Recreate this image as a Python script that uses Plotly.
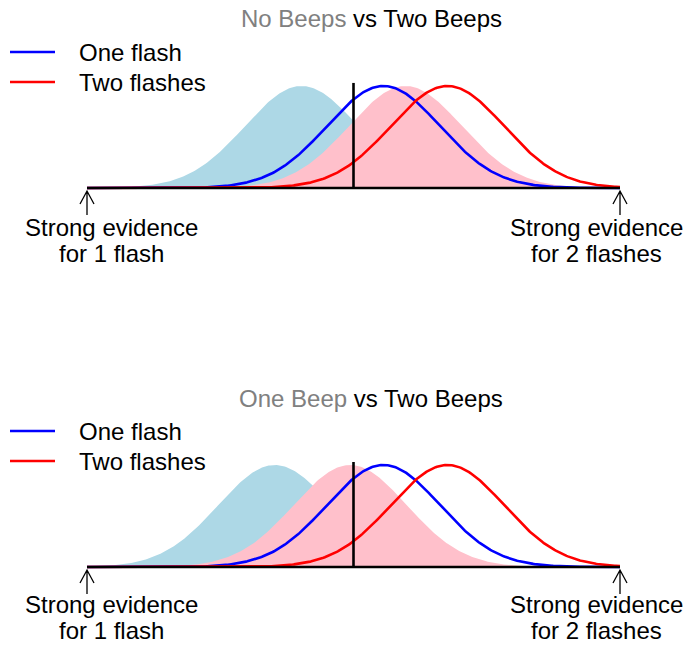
import numpy as np
import plotly.graph_objects as go

# ---- data ----
panel_titles_grey = ["No Beeps", "One Beep"]
panel_titles_black = ["vs Two Beeps", "vs Two Beeps"]
# shaded distributions (mean, sd) per panel: light blue, pink
fill_blue_mean = [-0.78, -1.18]
fill_pink_mean = [0.78, -0.05]
fill_sd = [0.85, 0.85]
# line distributions (same in both panels)
line_names = ["One flash", "Two flashes"]
line_means = [0.45, 1.41]
line_sd = [0.85, 0.85]
axis_ends = [-4, 4]
criterion = 0.0
criterion_height = 1.03
end_labels_left = ["Strong evidence", "for 1 flash"]
end_labels_right = ["Strong evidence", "for 2 flashes"]

W, H = 684, 645
FONT = "Arial, Liberation Sans, sans-serif"
FS = 24
LIGHTBLUE = "#ADD8E6"
PINK = "#FFC0CB"
BLUE = "#0000FF"
RED = "#FF0000"

x = np.linspace(axis_ends[0], axis_ends[1], 400)


def bump(m, s):
    return np.exp(-(x - m) ** 2 / (2 * s ** 2))


fig = go.Figure()

PXU = 102.0                 # px per y unit
XL, XR = 87, 620            # px of axis ends
xu = (XR - XL) / (axis_ends[1] - axis_ends[0])
xrange = [axis_ends[0] - XL / xu, axis_ends[1] + (W - XR) / xu]
base_px = [188, 567]
offset = base_px[1] - base_px[0]

axes = [("x", "y"), ("x2", "y2")]
for p in range(2):
    xa, ya = axes[p]
    fig.add_trace(go.Scatter(x=x, y=bump(fill_blue_mean[p], fill_sd[p]), fill="tozeroy",
                             fillcolor=LIGHTBLUE, line=dict(width=0, color=LIGHTBLUE),
                             mode="lines", showlegend=False, xaxis=xa, yaxis=ya, hoverinfo="skip"))
    fig.add_trace(go.Scatter(x=x, y=bump(fill_pink_mean[p], fill_sd[p]), fill="tozeroy",
                             fillcolor=PINK, line=dict(width=0, color=PINK),
                             mode="lines", showlegend=False, xaxis=xa, yaxis=ya, hoverinfo="skip"))
    for name, m, s, c in zip(line_names, line_means, line_sd, [BLUE, RED]):
        fig.add_trace(go.Scatter(x=x, y=bump(m, s), mode="lines", name=name,
                                 line=dict(color=c, width=2.6), showlegend=False,
                                 xaxis=xa, yaxis=ya))
    fig.add_trace(go.Scatter(x=axis_ends, y=[0, 0], mode="lines", line=dict(color="black", width=2.6),
                             showlegend=False, xaxis=xa, yaxis=ya, hoverinfo="skip"))
    fig.add_trace(go.Scatter(x=[criterion, criterion], y=[0, criterion_height], mode="lines",
                             line=dict(color="black", width=2.6),
                             showlegend=False, xaxis=xa, yaxis=ya, hoverinfo="skip"))


def py(v):   # px from top -> paper y
    return 1 - v / H


def pxp(v):  # px from left -> paper x
    return v / W


annotations = []
shapes = []
for p in range(2):
    off = p * offset
    annotations.append(dict(
        text=f"<span style='color:#808080'>{panel_titles_grey[p]}</span> {panel_titles_black[p]}",
        x=pxp(371), y=py(19 + off), xref="paper", yref="paper", showarrow=False,
        xanchor="center", yanchor="middle", font=dict(family=FONT, size=FS, color="black")))
    for i, (name, c) in enumerate(zip(line_names, [BLUE, RED])):
        yy = 52 + 30 * i + off
        shapes.append(dict(type="line", xref="paper", yref="paper", x0=pxp(10), x1=pxp(55),
                           y0=py(yy), y1=py(yy), line=dict(color=c, width=2.6)))
        annotations.append(dict(text=name, x=pxp(77), y=py(yy), xref="paper", yref="paper",
                                showarrow=False, xanchor="left", yanchor="middle",
                                font=dict(family=FONT, size=FS, color="black")))
    label_y = [227 + off, 253 + off] if p == 0 else [604 + 0, 630 + 0]
    for lines, ax_x, shift in [(end_labels_left, axis_ends[0], 24),
                               (end_labels_right, axis_ends[1], -24)]:
        for k, t in enumerate(lines):
            annotations.append(dict(text=t, x=ax_x, xref="x", y=py(label_y[k]), yref="paper",
                                    xshift=shift, showarrow=False, xanchor="center", yanchor="middle",
                                    borderpad=0,
                                    font=dict(family=FONT, size=FS, color="black")))
        tip, arm, bot = py(191 + off), py(204 + off), py(215 + off)
        dx = 7 / xu
        shapes.append(dict(type="path", xref="x", yref="paper",
                           path=f"M {ax_x},{bot} L {ax_x},{tip} M {ax_x - dx},{arm} L {ax_x},{tip} L {ax_x + dx},{arm}",
                           line=dict(color="black", width=1.3)))

top_dom_px = H / 2
fig.update_layout(
    width=W, height=H, margin=dict(l=0, r=0, t=0, b=0),
    paper_bgcolor="white", plot_bgcolor="white",
    showlegend=False,
    xaxis=dict(domain=[0, 1], range=xrange, visible=False, anchor="y"),
    yaxis=dict(domain=[0.5, 1], range=[-(top_dom_px - base_px[0]) / PXU, base_px[0] / PXU],
               visible=False, anchor="x"),
    xaxis2=dict(domain=[0, 1], range=xrange, visible=False, anchor="y2"),
    yaxis2=dict(domain=[0, 0.5], range=[-(H - base_px[1]) / PXU, (base_px[1] - top_dom_px) / PXU],
                visible=False, anchor="x2"),
    annotations=annotations, shapes=shapes,
)

# remove the default page margin so the figure fills the window exactly
fig.write_html("out.html", config={"displayModeBar": False},
               post_script="document.body.style.margin='0';document.body.style.overflow='hidden';")
